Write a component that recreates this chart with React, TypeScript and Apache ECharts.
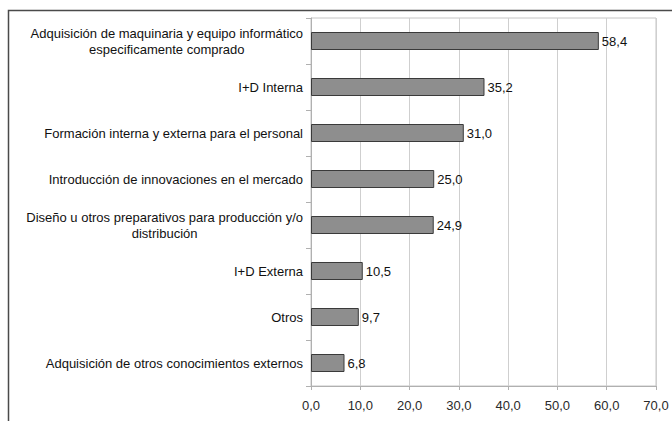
import React, { useEffect, useRef } from "react";
import * as echarts from "echarts";

const categories: string[] = [
  "Adquisición de maquinaria y equipo informático\nespecificamente comprado",
  "I+D Interna",
  "Formación interna y externa para el personal",
  "Introducción de innovaciones en el mercado",
  "Diseño u otros preparativos para producción y/o\ndistribución",
  "I+D Externa",
  "Otros",
  "Adquisición de otros conocimientos externos",
];
const values: number[] = [58.4, 35.2, 31.0, 25.0, 24.9, 10.5, 9.7, 6.8];
const xMin = 0;
const xMax = 70;
const xStep = 10;

const fmt = (v: number) => v.toFixed(1).replace(".", ",");

export default function App() {
  const ref = useRef<HTMLDivElement>(null);
  useEffect(() => {
    document.body.style.margin = "0";
    const chart = echarts.init(ref.current!, undefined, { renderer: "svg" });
    const font = "'Liberation Sans', Arial, sans-serif";
    chart.setOption({
      animation: false,
      backgroundColor: "#ffffff",
      textStyle: { fontFamily: font },
      graphic: [
        {
          type: "rect",
          shape: { x: 8.5, y: 10.5, width: 800, height: 600 },
          style: { fill: "none", stroke: "#4a4a4a", lineWidth: 1.5 },
          silent: true,
          z: -1,
        },
      ],
      grid: {
        left: 311,
        top: 18,
        right: 16,
        bottom: 35,
        containLabel: false,
        show: true,
        borderColor: "#c4c4c4",
        borderWidth: 1,
      },
      xAxis: {
        type: "value",
        min: xMin,
        max: xMax,
        interval: xStep,
        axisLine: { show: true, lineStyle: { color: "#b0b0b0" } },
        axisTick: { show: true, length: 4, lineStyle: { color: "#b0b0b0" } },
        splitLine: { show: true, lineStyle: { color: "#cfcfcf", width: 1 } },
        axisLabel: {
          formatter: (v: number) => fmt(v),
          color: "#2a2a2a",
          fontSize: 13,
          fontFamily: font,
          margin: 13,
        },
      },
      yAxis: {
        type: "category",
        data: categories,
        inverse: true,
        axisLine: { show: true, lineStyle: { color: "#b0b0b0" } },
        axisTick: { show: true, length: 5, lineStyle: { color: "#b0b0b0" } },
        axisLabel: {
          margin: 8,
          fontSize: 13,
          fontFamily: font,
          color: "#111111",
          lineHeight: 16,
          formatter: (v: string) =>
            v
              .split("\n")
              .map((l) => `{c|${l}}`)
              .join("\n"),
          rich: {
            c: {
              align: "center",
              fontSize: 13,
              fontFamily: font,
              color: "#111111",
              lineHeight: 16,
            },
          },
        },
      },
      series: [
        {
          type: "bar",
          data: values,
          barWidth: 18,
          itemStyle: {
            color: "#8e8e8e",
            borderColor: "#3a3a3a",
            borderWidth: 1,
          },
          label: {
            show: true,
            position: "right",
            distance: 3,
            formatter: (p: any) => fmt(p.value),
            color: "#111111",
            fontSize: 13,
            fontFamily: font,
          },
        },
      ],
    });
    return () => chart.dispose();
  }, []);
  return <div ref={ref} style={{ width: 672, height: 421 }} />;
}
